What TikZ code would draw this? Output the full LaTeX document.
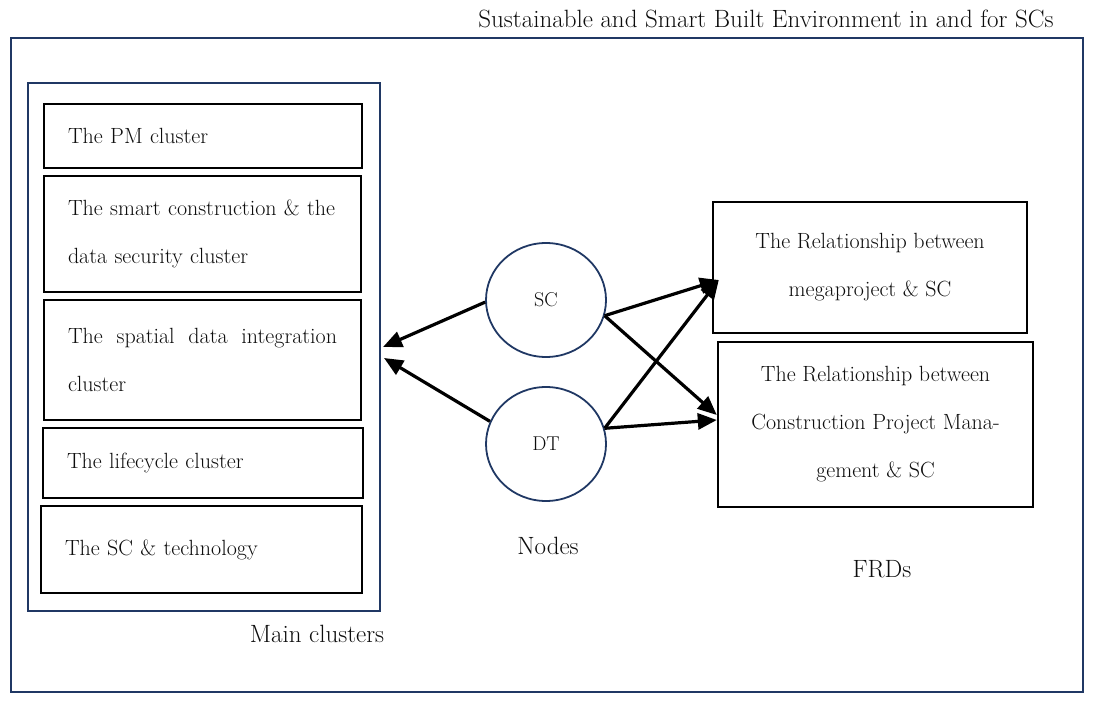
\documentclass[tikz,border=0pt]{standalone}
\usetikzlibrary{positioning,arrows.meta,shapes.geometric}
\definecolor{Frame}{HTML}{203864}
\definecolor{Ink}{HTML}{0D0D0D}

\begin{document}
\begin{tikzpicture}[x=1pt,y=-1pt,
    cluster/.style={draw=black,line width=2.8pt,inner xsep=24pt,align=left,font=\fontsize{22}{48}\selectfont,text=Ink},
    frd/.style={draw=black,line width=2.4pt,align=center,font=\fontsize{22}{48}\selectfont,text=Ink},
    hub/.style={ellipse,draw=Frame,line width=1.8pt,minimum width=120pt,minimum height=114pt,font=\fontsize{20}{22}\selectfont,text=Ink},
    link/.style={line width=3.2pt,-{Triangle[length=19pt,width=16pt]}},
    caption/.style={font=\fontsize{25}{28}\selectfont,text=Ink}]
    \useasboundingbox (0,0) rectangle (1094,703);

    % outer frame and title
    \node[draw=Frame,line width=2pt,minimum width=1072.5pt,minimum height=654pt] (frame) at (546.75,365) {};
    \node[caption,font=\fontsize{25}{28}\selectfont] (title) at (766,19) {Sustainable and Smart Built Environment in and for SCs};

    % main clusters
    \node[draw=Frame,line width=2pt,minimum width=352.5pt,minimum height=528pt] (clusters) at (203.75,347) {};
    \node[caption] (clusterlbl) at (317,634) {Main clusters};
    \node[cluster,text width=270pt,minimum height=64pt] (pm) at (203,136) {The PM cluster};
    \node[cluster,text width=269pt,minimum height=116pt] (smart) at (202.5,234) {The smart construction \& the\\data security cluster};
    \node[cluster,text width=269pt,minimum height=120pt,align=justify] (spatial) at (202.5,360) {The spatial data integration\linebreak cluster};
    \node[cluster,text width=272pt,minimum height=70pt] (life) at (203,463) {The lifecycle cluster};
    \node[cluster,text width=273pt,minimum height=87pt] (tech) at (201.5,549.5) {The SC \& technology};

    % nodes
    \node[hub] (sc) at (546,300) {SC};
    \node[hub] (dt) at (546,444) {DT};
    \node[caption] (nodeslbl) at (548,546) {Nodes};

    % FRDs
    \node[frd,minimum width=314pt,minimum height=131pt] (mega) at (870,267.5) {The Relationship between\\megaproject \& SC};
    \node[frd,minimum width=315pt,minimum height=165pt] (cpm) at (875.5,424.5) {The Relationship between\\Construction Project Mana-\\gement \& SC};
    \node[caption] (frdlbl) at (882,569) {FRDs};

    \draw[link] (sc.182) -- ([xshift=2pt]clusters.east);
    \draw[link] (dt.158) -- ([xshift=3pt,yshift=-11pt]clusters.east);
    \draw[link] (sc.-15) -- ([xshift=7pt,yshift=-12.5pt]mega.west);
    \draw[link] (sc.-15) -- ([yshift=9.5pt]cpm.west);
    \draw[link] (dt.15) -- ([xshift=7pt,yshift=-12.5pt]mega.west);
    \draw[link] (dt.15) -- ([yshift=4.5pt]cpm.west);
  \end{tikzpicture}
\end{document}
